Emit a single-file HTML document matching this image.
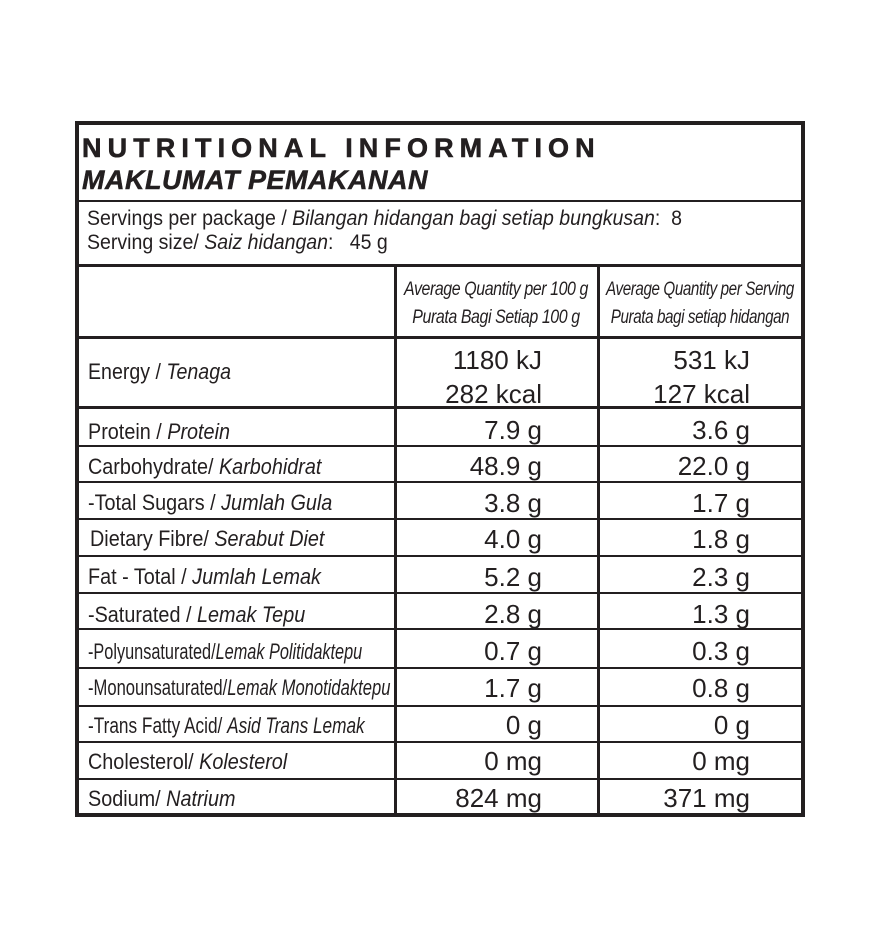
<!DOCTYPE html>
<html><head><meta charset="utf-8"><style>
body{margin:0;width:880px;height:940px;background:#fff;position:relative;font-family:"Liberation Sans",sans-serif;color:#231f20;overflow:hidden}
.l{position:absolute;background:#231f20}
.t{position:absolute;white-space:nowrap;transform-origin:0 0}
.r{position:absolute;white-space:nowrap;transform-origin:100% 0;text-align:right}
.c{position:absolute;white-space:nowrap;transform-origin:50% 0;text-align:center}
i{font-style:italic}
</style></head><body>
<div class="l" style="left:75px;top:121px;width:730px;height:4px"></div>
<div class="l" style="left:75px;top:813px;width:730px;height:4px"></div>
<div class="l" style="left:75px;top:121px;width:4px;height:696px"></div>
<div class="l" style="left:801px;top:121px;width:4px;height:696px"></div>
<div class="l" style="left:75px;top:200px;width:730px;height:2px"></div>
<div class="l" style="left:75px;top:264px;width:730px;height:3px"></div>
<div class="l" style="left:75px;top:336px;width:730px;height:3px"></div>
<div class="l" style="left:75px;top:406px;width:730px;height:3px"></div>
<div class="l" style="left:75px;top:445px;width:730px;height:2px"></div>
<div class="l" style="left:75px;top:481px;width:730px;height:2px"></div>
<div class="l" style="left:75px;top:518px;width:730px;height:2px"></div>
<div class="l" style="left:75px;top:555px;width:730px;height:2px"></div>
<div class="l" style="left:75px;top:592px;width:730px;height:2px"></div>
<div class="l" style="left:75px;top:628px;width:730px;height:2px"></div>
<div class="l" style="left:75px;top:667px;width:730px;height:2px"></div>
<div class="l" style="left:75px;top:705px;width:730px;height:2px"></div>
<div class="l" style="left:75px;top:741px;width:730px;height:2px"></div>
<div class="l" style="left:75px;top:778px;width:730px;height:2px"></div>
<div class="l" style="left:394px;top:264px;width:3px;height:552px"></div>
<div class="l" style="left:597px;top:264px;width:3px;height:552px"></div>

<div class="t" style="left:82px;top:133px;font-size:27px;font-weight:bold;letter-spacing:6.1px;-webkit-text-stroke:0.6px #231f20">NUTRITIONAL INFORMATION</div>
<div class="t" style="left:82px;top:165px;font-size:27px;font-weight:bold;font-style:italic;letter-spacing:0.5px;-webkit-text-stroke:0.5px #231f20">MAKLUMAT PEMAKANAN</div>
<div class="t" style="left:87px;top:207px;font-size:21px;line-height:24px;transform:scaleX(0.93)">Servings per package / <i>Bilangan hidangan bagi setiap bungkusan</i>:&nbsp; 8<br>Serving size/ <i>Saiz hidangan</i>:&nbsp;&nbsp; 45 g</div>

<div class="c" style="left:346px;width:300px;top:276px;font-size:19px;line-height:28px;font-style:italic;transform:scaleX(0.84);letter-spacing:-0.5px">Average Quantity per 100 g<br>Purata Bagi Setiap 100 g</div>
<div class="c" style="left:550px;width:300px;top:276px;font-size:19px;line-height:28px;font-style:italic;transform:scaleX(0.8);letter-spacing:-0.5px">Average Quantity per Serving<br>Purata bagi setiap hidangan</div>

<div class="t" style="left:88px;top:359px;font-size:22px;transform:scaleX(0.89)">Energy / <i>Tenaga</i></div>
<div class="r" style="left:400px;width:142px;top:343px;font-size:26px;line-height:34px">1180 kJ<br>282 kcal</div>
<div class="r" style="left:600px;width:150px;top:343px;font-size:26px;line-height:34px">531 kJ<br>127 kcal</div>

<div class="t" style="left:88px;top:419px;font-size:22px;transform:scaleX(0.9)">Protein / <i>Protein</i></div>
<div class="t" style="left:88px;top:454px;font-size:22px;transform:scaleX(0.9)">Carbohydrate/ <i>Karbohidrat</i></div>
<div class="t" style="left:88px;top:490px;font-size:22px;transform:scaleX(0.9)">-Total Sugars / <i>Jumlah Gula</i></div>
<div class="t" style="left:90px;top:526px;font-size:22px;transform:scaleX(0.9)">Dietary Fibre/ <i>Serabut Diet</i></div>
<div class="t" style="left:88px;top:564px;font-size:22px;transform:scaleX(0.9)">Fat - Total / <i>Jumlah Lemak</i></div>
<div class="t" style="left:88px;top:602px;font-size:22px;transform:scaleX(0.9)">-Saturated / <i>Lemak Tepu</i></div>
<div class="t" style="left:88px;top:639px;font-size:22px;transform:scaleX(0.74)">-Polyunsaturated/<i>Lemak Politidaktepu</i></div>
<div class="t" style="left:88px;top:675px;font-size:22px;transform:scaleX(0.754)">-Monounsaturated/<i>Lemak Monotidaktepu</i></div>
<div class="t" style="left:88px;top:713px;font-size:22px;transform:scaleX(0.783)">-Trans Fatty Acid/ <i>Asid Trans Lemak</i></div>
<div class="t" style="left:88px;top:749px;font-size:22px;transform:scaleX(0.9)">Cholesterol/ <i>Kolesterol</i></div>
<div class="t" style="left:88px;top:786px;font-size:22px;transform:scaleX(0.9)">Sodium/ <i>Natrium</i></div>

<div class="r" style="left:400px;width:142px;top:415px;font-size:26px">7.9 g</div>
<div class="r" style="left:400px;width:142px;top:451px;font-size:26px">48.9 g</div>
<div class="r" style="left:400px;width:142px;top:488px;font-size:26px">3.8 g</div>
<div class="r" style="left:400px;width:142px;top:524px;font-size:26px">4.0 g</div>
<div class="r" style="left:400px;width:142px;top:562px;font-size:26px">5.2 g</div>
<div class="r" style="left:400px;width:142px;top:599px;font-size:26px">2.8 g</div>
<div class="r" style="left:400px;width:142px;top:636px;font-size:26px">0.7 g</div>
<div class="r" style="left:400px;width:142px;top:673px;font-size:26px">1.7 g</div>
<div class="r" style="left:400px;width:142px;top:710px;font-size:26px">0 g</div>
<div class="r" style="left:400px;width:142px;top:746px;font-size:26px">0 mg</div>
<div class="r" style="left:400px;width:142px;top:783px;font-size:26px">824 mg</div>

<div class="r" style="left:600px;width:150px;top:415px;font-size:26px">3.6 g</div>
<div class="r" style="left:600px;width:150px;top:451px;font-size:26px">22.0 g</div>
<div class="r" style="left:600px;width:150px;top:488px;font-size:26px">1.7 g</div>
<div class="r" style="left:600px;width:150px;top:524px;font-size:26px">1.8 g</div>
<div class="r" style="left:600px;width:150px;top:562px;font-size:26px">2.3 g</div>
<div class="r" style="left:600px;width:150px;top:599px;font-size:26px">1.3 g</div>
<div class="r" style="left:600px;width:150px;top:636px;font-size:26px">0.3 g</div>
<div class="r" style="left:600px;width:150px;top:673px;font-size:26px">0.8 g</div>
<div class="r" style="left:600px;width:150px;top:710px;font-size:26px">0 g</div>
<div class="r" style="left:600px;width:150px;top:746px;font-size:26px">0 mg</div>
<div class="r" style="left:600px;width:150px;top:783px;font-size:26px">371 mg</div>
</body></html>
